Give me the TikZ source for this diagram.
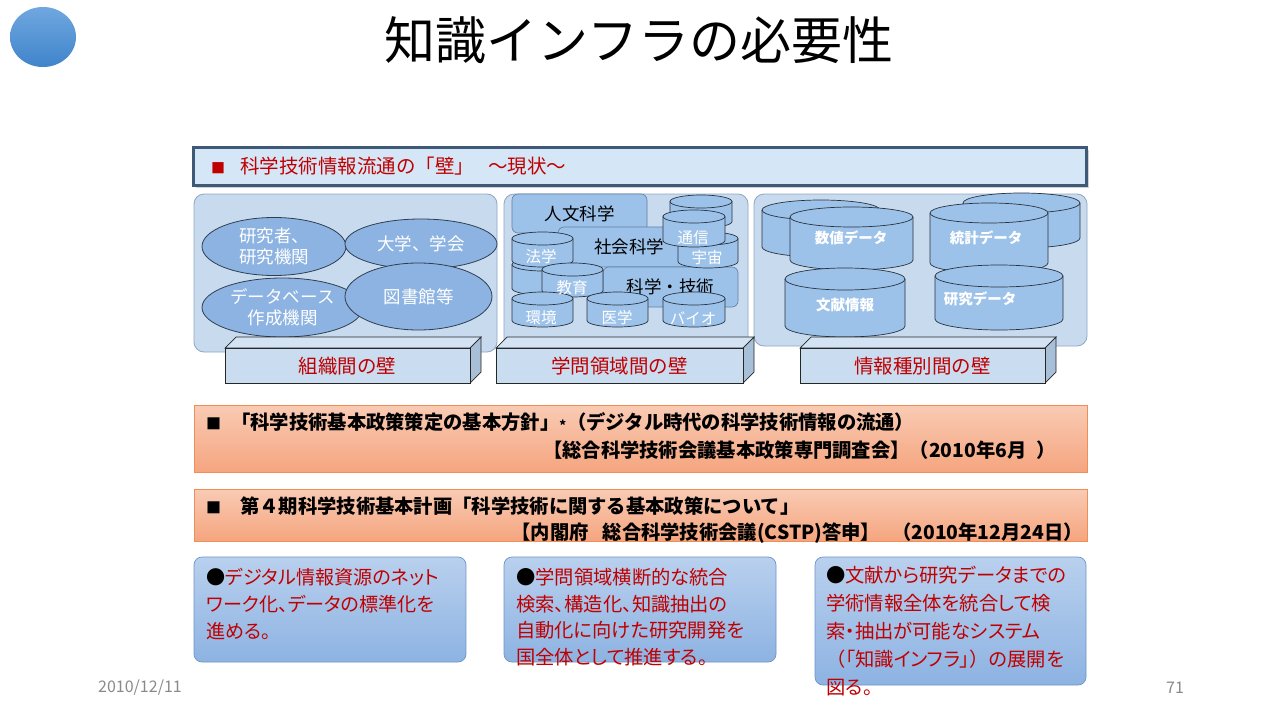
\documentclass[tikz,border=0pt]{standalone}
\usepackage{fontspec}
\setmainfont{Noto Sans CJK JP}
\newfontfamily\propjp{Noto Sans CJK JP}[RawFeature=+palt]
\usetikzlibrary{shapes.geometric,shadows}
\definecolor{panelfill}{HTML}{C8DAEE}
\definecolor{panelline}{HTML}{8EA7C5}
\definecolor{ellfill}{HTML}{8DB3E2}
\definecolor{ellline}{HTML}{2E3E50}
\definecolor{cylfill}{HTML}{9DC2E9}
\definecolor{cylline}{HTML}{28333F}
\definecolor{subjline}{HTML}{5F7FA3}
\definecolor{hdrfill}{HTML}{D5E6F7}
\definecolor{hdrline}{HTML}{3F5A77}
\definecolor{redtxt}{HTML}{C00000}
\definecolor{walltop}{HTML}{D3E3F3}
\definecolor{wallfront}{HTML}{C9DCF0}
\definecolor{wallside}{HTML}{A8BFD8}
\definecolor{orgtop}{HTML}{F9CBB4}
\definecolor{orgbot}{HTML}{F5A57F}
\definecolor{orgline}{HTML}{EF8F55}
\definecolor{bluetop}{HTML}{B9D0EE}
\definecolor{bluebot}{HTML}{8DB3E2}
\definecolor{blueline}{HTML}{6C94C9}
\definecolor{circtop}{HTML}{70A7E0}
\definecolor{circbot}{HTML}{3F84CA}
\definecolor{graytxt}{HTML}{8A8A8A}
\newcommand\fs[2]{\fontsize{#1}{#2}\selectfont}
% cylinder: name, left, top, right, bottom, cap radius
\newcommand\dbcyl[6]{%
  \pgfmathsetmacro\cylcx{(#2+#4)/2}%
  \pgfmathsetmacro\cylrx{(#4-#2)/2}%
  \pgfmathsetmacro\cylty{#3+#6}%
  \pgfmathsetmacro\cylby{#5-#6}%
  \filldraw[cylbody] (#2,\cylty) -- (#2,\cylby)
    arc[start angle=180,end angle=0,x radius=\cylrx,y radius=#6]
    -- (#4,\cylty)
    arc[start angle=0,end angle=-180,x radius=\cylrx,y radius=#6] -- cycle;
  \draw[cylbody,fill=none] (#2,\cylty)
    arc[start angle=180,end angle=0,x radius=\cylrx,y radius=#6];
  \coordinate (#1) at (\cylcx,{(#3+#5)/2+#6/2});
}
% wall box: name, left, right, label
\newcommand\wallbox[4]{%
  \filldraw[wallface,fill=walltop] (#2,348) -- (#2+11,337) -- (#3+11,337) -- (#3,348) -- cycle;
  \filldraw[wallface,fill=wallside] (#3,348) -- (#3+11,337) -- (#3+11,372) -- (#3,383) -- cycle;
  \filldraw[wallface,fill=wallfront] (#2,348) rectangle (#3,383);
  \node[walltext] (#1) at ({(#2+#3)/2},366) {#4};
}
\begin{document}
\begin{tikzpicture}[x=1pt,y=-1pt,
  panel/.style={draw=panelline,fill=panelfill,rounded corners=10pt,line width=0.8pt},
  ell/.style={ellipse,draw=ellline,fill=ellfill,line width=0.8pt,text=white,
    font=\fs{17.5}{21},align=center,inner sep=0pt},
  subj/.style={draw=subjline,fill=cylfill,rounded corners=6pt,line width=0.6pt,
    text=black,font=\fs{17.5}{20},inner sep=0pt},
  cylbody/.style={draw=cylline,fill=cylfill,line width=0.7pt},
  cyltext/.style={text=white,font=\fs{15.5}{18},inner sep=0pt},
  cyltextb/.style={text=white,font=\bfseries\fs{14.5}{17},inner sep=0pt},
  wallface/.style={draw=black!85,line width=0.7pt},
  walltext/.style={text=redtxt,font=\fs{19.5}{22},inner sep=0pt},
  orgbox/.style={draw=orgline,line width=0.7pt,top color=orgtop,bottom color=orgbot},
  orgtext/.style={text=black,font=\bfseries\fs{19.3}{22},inner sep=0pt},
  bluebox/.style={draw=blueline,line width=0.7pt,rounded corners=8pt,
    top color=bluetop,bottom color=bluebot},
  bluetext/.style={text=redtxt,align=left,inner sep=0pt,anchor=north west},
  foot/.style={text=graytxt,font=\fs{16}{19},inner sep=0pt}
]
\useasboundingbox (0,0) rectangle (1280,720);
\fill[white] (0,0) rectangle (1280,720);

% logo circle and title
\shade[top color=circtop,bottom color=circbot] (43,37) ellipse [x radius=33,y radius=30];
\coordinate (logo) at (43,37);
\node[font=\fs{51}{56},inner sep=0pt] (title) at (639,40) {知識インフラの必要性};

% header bar
\node[draw=hdrline,fill=hdrfill,line width=2.5pt,minimum width=893,minimum height=38,
  inner sep=0pt,drop shadow={shadow xshift=2pt,shadow yshift=-2pt,opacity=0.35}]
  (hdr) at (640,166.5) {};
\node[anchor=west,text=redtxt,font=\fs{19.5}{22},inner sep=0pt] (hdrtext) at (211,166)
  {{\fs{14}{14}■}\hspace{15pt}科学技術情報流通の「壁」\hspace{14pt}～現状～};

% panels
\draw[panel] (194,194) rectangle (497,352);
\draw[panel] (504,194) rectangle (748,352);
\draw[panel] (754,194) rectangle (1087,346);
\coordinate (pnl1) at (345,273);
\coordinate (pnl2) at (626,273);
\coordinate (pnl3) at (920,270);

% left panel: organisations
\node[ell,minimum width=144,minimum height=58] (e1) at (274,246.5) {研究者、\\研究機関};
\node[ell,minimum width=152,minimum height=50] (e2) at (421,244) {大学、学会};
\node[ell,minimum width=161,minimum height=59] (e3) at (282.5,307.5) {データベース\\作成機関};
\node[ell,minimum width=147,minimum height=67] (e4) at (418.5,296.5) {図書館等};

% middle panel: disciplines
\node[subj,minimum width=135,minimum height=39] (jinbun) at (579.5,213.5) {人文科学};
\node[subj,minimum width=142,minimum height=40] (shakai) at (629,247) {社会科学};
\node[subj,minimum width=135,minimum height=40] (kagaku) at (670.5,287) {科学・技術};
\dbcyl{cback1}{670}{195}{732}{228}{6.5}
\dbcyl{cuchu}{678}{232}{738}{268}{6.5}
\dbcyl{ctsushin}{663}{210}{725}{247}{6.5}
\dbcyl{cback2}{512}{258}{573}{295}{6.5}
\dbcyl{chogaku}{512}{232}{573}{267}{6.5}
\dbcyl{ckyoiku}{542}{263}{603}{297}{6.5}
\dbcyl{ckankyo}{512}{292}{573}{327}{6.5}
\dbcyl{cigaku}{587}{292}{648}{327}{6.5}
\dbcyl{cbio}{663}{292}{725}{327}{6.5}
\node[cyltext] (thogaku) at (541,257) {法学};
\node[cyltext] (ttsushin) at (693,238) {通信};
\node[cyltext] (tuchu) at (707,258) {宇宙};
\node[cyltext] (tkyoiku) at (572,288) {教育};
\node[cyltext] (tkankyo) at (541,318) {環境};
\node[cyltext] (tigaku) at (617,318) {医学};
\node[cyltext] (tbio) at (693,318) {バイオ};

% right panel: information types
\dbcyl{rback1}{762}{200}{880}{257}{10}
\dbcyl{rsuchi}{790}{207}{913}{270}{10}
\dbcyl{rback2}{963}{193}{1080}{248}{10}
\dbcyl{rtokei}{930}{203}{1048}{273}{10}
\dbcyl{rbunken}{785}{268}{905}{337}{11}
\dbcyl{rkenkyu}{935}{265}{1063}{330}{11}
\node[cyltextb] (tsuchi) at (851,238) {数値データ};
\node[cyltextb] (ttokei) at (986,238) {統計データ};
\node[cyltextb] (tbunken) at (845,305) {文献情報};
\node[cyltextb] (tkenkyu) at (980,299) {研究データ};

% walls
\wallbox{wall1}{225}{470}{組織間の壁}
\wallbox{wall2}{496}{743}{学問領域間の壁}
\wallbox{wall3}{800}{1045}{情報種別間の壁}

% orange policy boxes
\draw[orgbox] (194,405) rectangle (1087,472);
\coordinate (org1) at (640,438);
\node[orgtext,anchor=west] (o1a) at (206,422)
  {{\fs{15}{15}■}\hspace{10pt}「科学技術基本政策策定の基本方針」\raisebox{-1pt}{\fs{13}{13}*}\hspace{1pt}（デジタル時代の科学技術情報の流通）};
\node[orgtext,anchor=east] (o1b) at (1056,450)
  {【総合科学技術会議基本政策専門調査会】（2010年6月\hspace{10pt}）};
\draw[orgbox] (194,489) rectangle (1087,541);
\coordinate (org2) at (640,515);
\node[orgtext,anchor=west] (o2a) at (206,506)
  {{\fs{15}{15}■}\hspace{19pt}第４期科学技術基本計画「科学技術に関する基本政策について」};
\node[orgtext,anchor=east] (o2b) at (1083,533)
  {【内閣府\hspace{14pt}総合科学技術会議(CSTP)答申】\hspace{12pt}（2010年12月24日）};

% blue measure boxes
\draw[bluebox] (194,557) rectangle (466,662);
\draw[bluebox] (504,557) rectangle (776,662);
\draw[bluebox] (815,557) rectangle (1086,685);
\node[bluetext,font=\propjp\fs{19.1}{26.8}] (b1) at (206,568)
  {{\color{black}●}デジタル情報資源のネット\\ワーク化、データの標準化を\\進める。};
\node[bluetext,font=\propjp\fs{19.3}{26.5}] (b2) at (516,568)
  {{\color{black}●}学問領域横断的な統合\\検索、構造化、知識抽出の\\自動化に向けた研究開発を\\国全体として推進する。};
\node[bluetext,font=\propjp\fs{19.3}{28}] (b3) at (826,566)
  {{\color{black}●}文献から研究データまでの\\学術情報全体を統合して検\\索・抽出が可能なシステム\\{\rmfamily （}「知識インフラ」{\rmfamily ）}の展開を\\図る。};

% footer
\node[foot,anchor=west] (date) at (98,688) {2010/12/11};
\node[foot] (page) at (1175,688) {71};
\end{tikzpicture}
\end{document}
